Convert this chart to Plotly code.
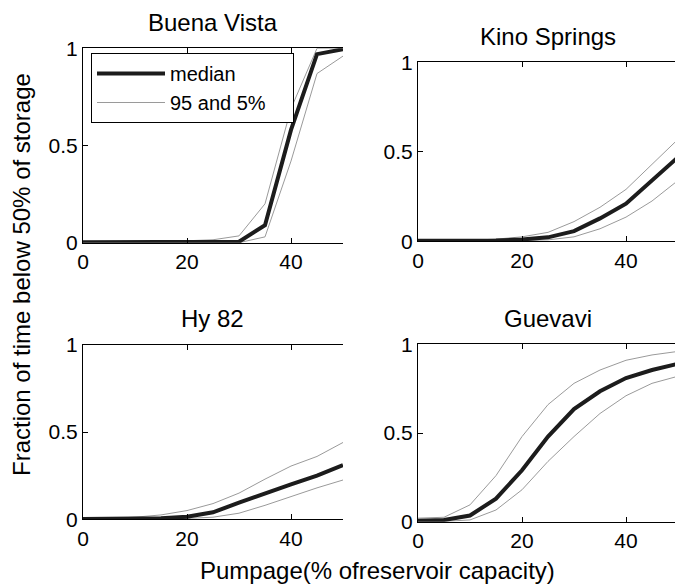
import plotly.graph_objects as go

# Pumpage as % of reservoir capacity
pumpage = [0, 5, 10, 15, 20, 25, 30, 35, 40, 45, 50]

# Fraction of time below 50% of storage, per reservoir
buena_median = [0.002, 0.002, 0.002, 0.002, 0.003, 0.003, 0.005, 0.09, 0.58, 0.97, 0.995]
buena_p95 = [0.005, 0.005, 0.006, 0.008, 0.01, 0.015, 0.035, 0.2, 0.69, 1.0, 1.0]
buena_p05 = [0.0, 0.0, 0.0, 0.0, 0.0, 0.0, 0.0, 0.03, 0.42, 0.87, 0.96]

kino_median = [0.003, 0.003, 0.003, 0.005, 0.01, 0.022, 0.057, 0.128, 0.21, 0.34, 0.47]
kino_p95 = [0.005, 0.005, 0.006, 0.012, 0.025, 0.05, 0.11, 0.19, 0.29, 0.43, 0.57]
kino_p05 = [0.001, 0.001, 0.001, 0.002, 0.004, 0.008, 0.025, 0.07, 0.135, 0.225, 0.34]

hy82_median = [0.002, 0.002, 0.003, 0.006, 0.015, 0.04, 0.095, 0.15, 0.2, 0.25, 0.31]
hy82_p95 = [0.003, 0.005, 0.012, 0.025, 0.05, 0.09, 0.15, 0.23, 0.305, 0.36, 0.44]
hy82_p05 = [0.001, 0.001, 0.001, 0.002, 0.005, 0.012, 0.035, 0.08, 0.13, 0.18, 0.225]

guev_median = [0.005, 0.01, 0.035, 0.13, 0.29, 0.48, 0.635, 0.735, 0.81, 0.855, 0.89]
guev_p95 = [0.02, 0.025, 0.095, 0.26, 0.48, 0.66, 0.78, 0.855, 0.91, 0.94, 0.96]
guev_p05 = [0.0, 0.002, 0.01, 0.066, 0.18, 0.34, 0.48, 0.61, 0.71, 0.78, 0.82]

panel_titles = ["Buena Vista", "Kino Springs", "Hy 82", "Guevavi"]
x_ticks = [0, 20, 40]
y_ticks = [0, 0.5, 1]
y_tick_text = ["0", "0.5", "1"]

W, H = 675, 584
FONT = "Liberation Sans, Arial, sans-serif"

# panel boxes in pixels: left, right, top, bottom
boxes = [
    (83, 343, 48.3, 242.7),
    (418, 675, 62.3, 241.3),
    (83, 343, 344.7, 519.3),
    (418, 675, 344.3, 521.7),
]
PX_PER_UNIT = 5.2

series = [
    (buena_median, buena_p95, buena_p05),
    (kino_median, kino_p95, kino_p05),
    (hy82_median, hy82_p95, hy82_p05),
    (guev_median, guev_p95, guev_p05),
]

# trailing no-break spaces give the legend box its right-hand padding
band_name = "95 and 5%" + "\u00a0" * 4

fig = go.Figure()
layout = dict(
    width=W, height=H,
    margin=dict(l=0, r=0, t=0, b=0, pad=0, autoexpand=False),
    paper_bgcolor="white", plot_bgcolor="white",
    font=dict(family=FONT, size=21, color="black"),
    showlegend=True,
)

annotations = []
for i, ((l, r, t, b), (med, p95, p05)) in enumerate(zip(boxes, series)):
    n = "" if i == 0 else str(i + 1)
    xa, ya = "x" + n, "y" + n
    grey = dict(color="#9a9a9a", width=1)
    fig.add_trace(go.Scatter(x=pumpage, y=p95, mode="lines", line=grey,
                             name=band_name, legendgroup="band",
                             showlegend=(i == 0), xaxis=xa, yaxis=ya))
    fig.add_trace(go.Scatter(x=pumpage, y=p05, mode="lines", line=grey,
                             name=band_name, legendgroup="band",
                             showlegend=False, xaxis=xa, yaxis=ya))
    fig.add_trace(go.Scatter(x=pumpage, y=med, mode="lines",
                             line=dict(color="#1c1c1c", width=4),
                             name="median", legendgroup="med",
                             showlegend=(i == 0), xaxis=xa, yaxis=ya))
    xmax = (r - l) / PX_PER_UNIT
    layout["xaxis" + n] = dict(
        domain=[l / W, r / W], range=[0, xmax], anchor=ya, automargin=False,
        tickvals=x_ticks, ticks="inside", ticklen=5, tickcolor="black",
        showline=True, linecolor="black", linewidth=1.2, mirror="ticks",
        showgrid=False, zeroline=False, tickfont=dict(size=21),
        ticklabelstandoff=0,
    )
    layout["yaxis" + n] = dict(
        domain=[1 - b / H, 1 - t / H], range=[0, 1], anchor=xa, automargin=False,
        tickvals=y_ticks, ticktext=y_tick_text, ticks="inside", ticklen=5,
        tickcolor="black", showline=True, linecolor="black", linewidth=1.2,
        mirror=False, showgrid=False, zeroline=False, tickfont=dict(size=21),
        ticklabelstandoff=0,
    )

title_centers = [23, 36.5, 318, 318]
for (l, r, t, b), title, yc in zip(boxes, panel_titles, title_centers):
    cx = (l + l + 50 * PX_PER_UNIT) / 2
    annotations.append(dict(text=title, x=cx / W, y=1 - yc / H, xref="paper", yref="paper",
                            xanchor="center", yanchor="middle", showarrow=False,
                            font=dict(size=24, family=FONT)))

annotations.append(dict(text="Fraction of time below 50% of storage", textangle=-90,
                        x=22 / W, y=1 - 275 / H, xref="paper", yref="paper",
                        xanchor="center", yanchor="middle", showarrow=False,
                        font=dict(size=24, family=FONT)))
annotations.append(dict(text="Pumpage(% ofreservoir capacity)",
                        x=377.5 / W, y=1 - 570 / H, xref="paper", yref="paper",
                        xanchor="center", yanchor="middle", showarrow=False,
                        font=dict(size=24, family=FONT)))

layout["annotations"] = annotations
layout["legend"] = dict(
    x=91 / W, y=1 - 53 / H, xanchor="left", yanchor="top",
    bgcolor="white", bordercolor="black", borderwidth=1,
    font=dict(size=20, family=FONT), itemwidth=68, traceorder="reversed",
)
fig.update_layout(**layout)
fig.write_html("out.html")
